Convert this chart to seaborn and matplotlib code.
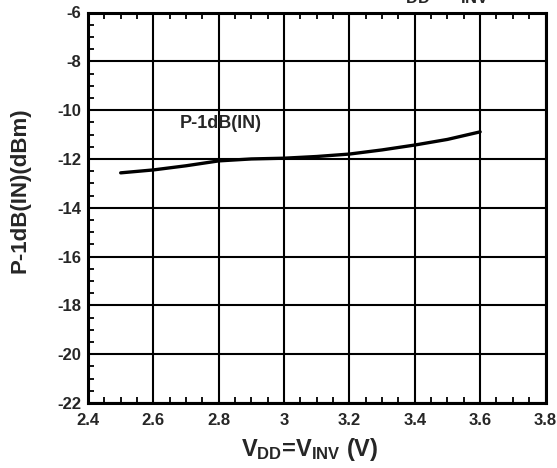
import matplotlib
matplotlib.use("Agg")
import matplotlib.pyplot as plt
import seaborn as sns
import pandas as pd
from matplotlib.ticker import MultipleLocator

vdd = [2.5, 2.6, 2.7, 2.8, 2.9, 3.0, 3.1, 3.2, 3.3, 3.4, 3.5, 3.6]
p1db_in = [-12.57, -12.45, -12.28, -12.08, -12.0, -11.97, -11.9, -11.8, -11.63, -11.43, -11.2, -10.89]
xticks = [2.4, 2.6, 2.8, 3.0, 3.2, 3.4, 3.6, 3.8]
xticklabels = ["2.4", "2.6", "2.8", "3", "3.2", "3.4", "3.6", "3.8"]
yticks = [-22, -20, -18, -16, -14, -12, -10, -8, -6]

sns.set_theme(style="white")
plt.rcParams["font.family"] = ["Liberation Sans", "DejaVu Sans"]
plt.rcParams["font.weight"] = "bold"
plt.rcParams["mathtext.fontset"] = "custom"
plt.rcParams["mathtext.rm"] = "Liberation Sans:bold"
plt.rcParams["mathtext.bf"] = "Liberation Sans:bold"
plt.rcParams["mathtext.it"] = "Liberation Sans:bold"

df = pd.DataFrame({"vdd": vdd, "p": p1db_in})

fig = plt.figure(figsize=(5.57, 4.68), dpi=100)
ax = fig.add_axes([88/557, 1 - 403/468, (545.5-88)/557, (403-12.5)/468])

sns.lineplot(data=df, x="vdd", y="p", ax=ax, color="black", linewidth=2.4, zorder=5)

ax.set_xlim(2.4, 3.8)
ax.set_ylim(-22, -6)
ax.set_xticks(xticks)
ax.set_xticklabels(xticklabels)
ax.set_yticks(yticks)
ax.set_yticklabels([str(v) for v in yticks])
ax.xaxis.set_minor_locator(MultipleLocator(0.05))
ax.yaxis.set_minor_locator(MultipleLocator(0.5))
ax.grid(True, which="major", color="black", linewidth=1.5)
ax.tick_params(which="major", length=0, labelsize=12, pad=5)
ax.tick_params(axis="x", which="major", pad=7)
ax.tick_params(which="minor", direction="in", length=4, width=1.3, color="black",
               bottom=True, top=True, left=True, right=False)
for lab in ax.get_xticklabels() + ax.get_yticklabels():
    lab.set_fontweight("bold")
for s in ax.spines.values():
    s.set_color("black")
    s.set_linewidth(2.2)

ax.set_xlabel(r"$\mathbf{V_{DD}}$=$\mathbf{V_{INV}}$ (V)", fontsize=17, fontweight="bold")
ax.xaxis.set_label_coords(0.485, -0.085)
ax.set_ylabel("P-1dB(IN)(dBm)", fontsize=16, fontweight="bold")
ax.yaxis.set_label_coords(-0.125, 0.545)

ax.text(2.807, -10.53, "P-1dB(IN)", fontsize=13, fontweight="bold", ha="center", va="center")

fig.text(440/557, 1 - 6/468, r"$\mathbf{V_{DD}}$=$\mathbf{V_{INV}}$", fontsize=17,
         fontweight="bold", ha="center", va="bottom")

fig.savefig("out.png", dpi=100)
